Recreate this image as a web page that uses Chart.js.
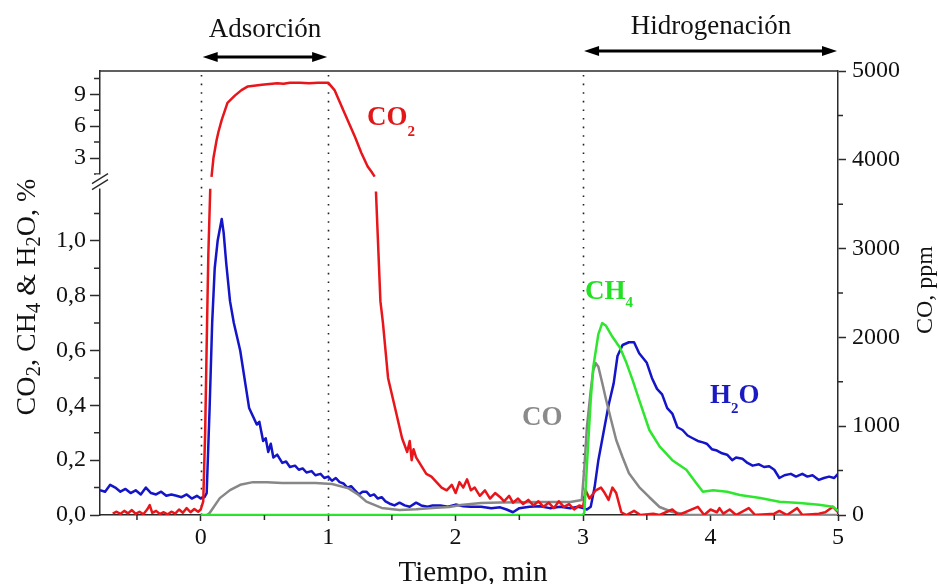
<!DOCTYPE html>
<html>
<head>
<meta charset="utf-8">
<script src="https://cdn.jsdelivr.net/npm/chart.js@4.4.0/dist/chart.umd.min.js"></script>
<style>
  html, body { margin: 0; padding: 0; background: #fff; }
  #wrap { width: 938px; height: 584px; }
</style>
</head>
<body>
<div id="wrap"><canvas id="chart" width="938" height="584"></canvas></div>
<script>
// time axis, min
var xTicks = [0, 1, 2, 3, 4, 5];
var xMinorTicks = [-0.5, 0.5, 1.5, 2.5, 3.5, 4.5];
var pctTicks = [0, 0.2, 0.4, 0.6, 0.8, 1.0, 3, 6, 9];
var pctMinorTicks = [0.1, 0.3, 0.5, 0.7, 0.9, 1.1, 1.5, 4.5, 7.5, 10.5];
var ppmTicks = [0, 1000, 2000, 3000, 4000, 5000];
var ppmMinorTicks = [500, 1500, 2500, 3500, 4500];
var phaseLines = [0, 1, 3];

// CO2, %
var co2Time = [-0.69, -0.66, -0.63, -0.6, -0.57, -0.54, -0.51, -0.48, -0.45, -0.42, -0.4, -0.38, -0.35, -0.32, -0.29, -0.26, -0.23, -0.2, -0.17, -0.14, -0.11, -0.08, -0.05, -0.02, 0.0,
  0.02, 0.035, 0.05, 0.06, 0.075, 0.085, 0.1, 0.125, 0.14, 0.165, 0.21, 0.27, 0.32, 0.37, 0.48, 0.6, 0.65, 0.7, 0.78, 0.85, 0.92, 1.0,
  1.05, 1.13, 1.21, 1.26, 1.31, 1.34, 1.365, 1.375, 1.41, 1.43, 1.47, 1.54, 1.58, 1.62, 1.64, 1.655, 1.67, 1.69, 1.73, 1.77, 1.81, 1.85, 1.89, 1.93, 1.97,
  2.0, 2.03, 2.06, 2.09, 2.12, 2.15, 2.19, 2.23, 2.27, 2.31, 2.35, 2.38, 2.42, 2.45, 2.49, 2.53, 2.57, 2.61, 2.65, 2.69, 2.73, 2.77, 2.81, 2.85, 2.89, 2.93, 2.97,
  3.0, 3.02, 3.05, 3.1, 3.14, 3.17, 3.2, 3.23, 3.26, 3.3, 3.34, 3.4, 3.45, 3.55, 3.6, 3.7, 3.75, 3.9, 3.95, 4.0, 4.05, 4.07, 4.1, 4.15, 4.2, 4.3, 4.35,
  4.5, 4.54, 4.6, 4.68, 4.72, 4.85, 4.9, 4.96, 5.0];
var co2Pct = [0.005, 0.012, 0.004, 0.015, 0.006, 0.018, 0.004, 0.012, 0.003, 0.02, 0.036, 0.008, 0.015, 0.004, 0.01, 0.002, 0.012, 0.005, 0.02, 0.008, 0.025, 0.01, 0.022, 0.012, 0.02,
  0.05, 0.3, 0.7, 0.95, 1.19, 1.22, 3.0, 4.7, 5.5, 6.6, 8.2, 8.9, 9.4, 9.75, 9.9, 10.05, 10.0, 10.1, 10.1, 10.05, 10.1, 10.1,
  9.4, 7.2, 5.0, 3.5, 2.2, 1.7, 1.25, 1.18, 0.78, 0.7, 0.5, 0.36, 0.28, 0.23, 0.27, 0.2, 0.24, 0.21, 0.18, 0.15, 0.14, 0.12, 0.1, 0.09, 0.11,
  0.08, 0.12, 0.1, 0.13, 0.09, 0.1, 0.07, 0.09, 0.06, 0.08, 0.065, 0.05, 0.07, 0.045, 0.06, 0.04, 0.055, 0.035, 0.05, 0.03, 0.045, 0.025, 0.05, 0.03, 0.04, 0.02, 0.035,
  0.03, 0.09, 0.06, 0.09, 0.1, 0.08, 0.055, 0.1, 0.08, 0.01, 0.0, 0.015, 0.0, 0.005, 0.0, 0.02, 0.0, 0.03, 0.0, 0.02, 0.01, 0.025, 0.005, 0.02, 0.0, 0.025, 0.0,
  0.005, 0.015, 0.0, 0.025, 0.0, 0.005, 0.01, 0.03, 0.01];

// H2O, %
var h2oTime = [-0.79, -0.75, -0.71, -0.67, -0.63, -0.59, -0.55, -0.51, -0.47, -0.43, -0.39, -0.35, -0.31, -0.27, -0.23, -0.19, -0.15, -0.11, -0.07, -0.03, 0.0,
  0.03, 0.047, 0.07, 0.09, 0.11, 0.133, 0.165, 0.18, 0.2, 0.23, 0.26, 0.28, 0.31, 0.33, 0.36, 0.38, 0.41, 0.44, 0.46, 0.49, 0.51, 0.53, 0.55, 0.57, 0.6,
  0.64, 0.67, 0.7, 0.74, 0.77, 0.8, 0.83, 0.87, 0.9, 0.94, 0.97, 1.0, 1.03, 1.06, 1.09, 1.12, 1.15, 1.18, 1.21, 1.24, 1.27, 1.3, 1.33, 1.36, 1.39, 1.42, 1.45, 1.49,
  1.52, 1.56, 1.6, 1.64, 1.69, 1.73, 1.78, 1.82, 1.88, 1.94, 2.0, 2.06, 2.12, 2.2, 2.28, 2.35, 2.4, 2.45, 2.5, 2.58, 2.66, 2.74, 2.82, 2.9, 2.96, 3.0,
  3.03, 3.06, 3.09, 3.12, 3.16, 3.2, 3.24, 3.27, 3.31, 3.36, 3.4, 3.44, 3.5, 3.54, 3.58, 3.62, 3.66, 3.7, 3.74, 3.78, 3.82, 3.86, 3.9, 3.94, 3.97,
  4.01, 4.05, 4.09, 4.13, 4.17, 4.2, 4.25, 4.29, 4.33, 4.38, 4.42, 4.46, 4.5, 4.54, 4.58, 4.63, 4.67, 4.72, 4.76, 4.8, 4.85, 4.89, 4.93, 4.97, 5.0];
var h2oPct = [0.09, 0.085, 0.11, 0.1, 0.085, 0.095, 0.08, 0.09, 0.075, 0.1, 0.08, 0.075, 0.085, 0.07, 0.075, 0.07, 0.065, 0.075, 0.06, 0.07, 0.06,
  0.065, 0.08, 0.39, 0.7, 0.9, 1.0, 1.08, 1.03, 0.92, 0.78, 0.7, 0.66, 0.6, 0.54, 0.45, 0.39, 0.36, 0.33, 0.34, 0.27, 0.28, 0.23, 0.26, 0.21, 0.22,
  0.19, 0.195, 0.175, 0.18, 0.165, 0.17, 0.155, 0.16, 0.145, 0.15, 0.135, 0.14, 0.125, 0.135, 0.12, 0.115, 0.1, 0.105, 0.09, 0.075, 0.085, 0.085, 0.07, 0.075, 0.06, 0.065, 0.05, 0.04,
  0.035, 0.045, 0.035, 0.03, 0.045, 0.035, 0.03, 0.035, 0.035, 0.03, 0.038, 0.032, 0.03, 0.03, 0.025, 0.028, 0.02, 0.01, 0.025, 0.03, 0.032, 0.025, 0.03, 0.025, 0.03, 0.025,
  0.02, 0.03, 0.1, 0.2, 0.3, 0.4, 0.48, 0.58, 0.62, 0.63, 0.63, 0.59, 0.555, 0.5, 0.46, 0.44, 0.39, 0.37, 0.32, 0.31, 0.29, 0.28, 0.27, 0.265, 0.26,
  0.24, 0.235, 0.225, 0.22, 0.2, 0.21, 0.205, 0.19, 0.18, 0.185, 0.175, 0.178, 0.165, 0.135, 0.145, 0.15, 0.14, 0.15, 0.14, 0.145, 0.128, 0.135, 0.14, 0.135, 0.15];

// CH4, %
var ch4Time = [0.0, 3.0, 3.01, 3.03, 3.06, 3.08, 3.12, 3.15, 3.18, 3.23, 3.29, 3.34, 3.39, 3.44, 3.52, 3.6, 3.7, 3.81, 3.89, 3.94, 4.02, 4.13, 4.23, 4.39, 4.54, 4.7, 4.85, 4.96, 5.0];
var ch4Pct = [0.0, 0.0, 0.01, 0.18, 0.42, 0.54, 0.66, 0.7, 0.69, 0.65, 0.61, 0.555, 0.49, 0.42, 0.31, 0.25, 0.2, 0.165, 0.115, 0.085, 0.09, 0.085, 0.073, 0.062, 0.048, 0.044, 0.037, 0.03, 0.015];

// CO, ppm
var coTime = [0.05, 0.07, 0.15, 0.23, 0.31, 0.41, 0.52, 0.64, 0.77, 0.9, 1.03, 1.16, 1.24, 1.3, 1.42, 1.56, 1.69, 1.82, 1.95, 2.04, 2.2, 2.35, 2.66, 2.9, 2.99,
  3.01, 3.03, 3.06, 3.08, 3.1, 3.12, 3.15, 3.18, 3.22, 3.26, 3.31, 3.36, 3.44, 3.52, 3.6, 3.7, 3.83, 5.0];
var coPpm = [0, 22, 190, 280, 340, 370, 370, 360, 360, 360, 350, 300, 225, 150, 80, 56, 65, 80, 90, 113, 135, 140, 146, 146, 170,
  540, 990, 1400, 1630, 1710, 1670, 1490, 1300, 1070, 845, 650, 470, 315, 200, 90, 34, 0, 0];

var PCT_BREAK = 1.2;
var PCT_MAX = 11.2;
var LOW_FRAC = 0.741;   // share of the axis height used by 0..1.2
var HIGH_FRAC = 0.761;  // where the upper part (1.2..11.2) starts

var SERIF = "'Liberation Serif', 'Times New Roman', serif";
var AXIS = '#2b2b2b';

// linear scale with a break between 1.2 and the upper range
class BrokenScale extends Chart.LinearScale {
    getPixelForValue(v) {
        if (v === null || v === undefined || isNaN(v)) return NaN;
        var d = v <= PCT_BREAK
            ? v / PCT_BREAK * LOW_FRAC
            : HIGH_FRAC + (v - PCT_BREAK) / (PCT_MAX - PCT_BREAK) * (1 - HIGH_FRAC);
        return this.getPixelForDecimal(d);
    }
    getValueForPixel(p) {
        var d = this.getDecimalForPixel(p);
        return d <= LOW_FRAC
            ? d / LOW_FRAC * PCT_BREAK
            : PCT_BREAK + (d - HIGH_FRAC) / (1 - HIGH_FRAC) * (PCT_MAX - PCT_BREAK);
    }
}
BrokenScale.id = 'broken';
BrokenScale.defaults = Chart.LinearScale.defaults;
Chart.register(BrokenScale);

function points(xs, ys) {
    return xs.map(function(x, i) { return { x: x, y: ys[i] }; });
}

function drawParts(ctx, parts, x, y, align) {
    var total = 0;
    parts.forEach(function(p) {
        ctx.font = p.font;
        p.w = ctx.measureText(p.t).width;
        total += p.w;
    });
    var cx = align === 'center' ? x - total / 2 : x;
    ctx.textAlign = 'left';
    ctx.textBaseline = 'alphabetic';
    parts.forEach(function(p) {
        ctx.font = p.font;
        ctx.fillText(p.t, cx, y + (p.dy || 0));
        cx += p.w;
    });
}

function drawArrow(ctx, x1, x2, y) {
    var head = 15, half = 5;
    ctx.save();
    ctx.strokeStyle = '#000';
    ctx.fillStyle = '#000';
    ctx.lineWidth = 3;
    ctx.beginPath();
    ctx.moveTo(x1 + head - 2, y);
    ctx.lineTo(x2 - head + 2, y);
    ctx.stroke();
    ctx.beginPath();
    ctx.moveTo(x1, y);
    ctx.lineTo(x1 + head, y - half);
    ctx.lineTo(x1 + head, y + half);
    ctx.closePath();
    ctx.fill();
    ctx.beginPath();
    ctx.moveTo(x2, y);
    ctx.lineTo(x2 - head, y - half);
    ctx.lineTo(x2 - head, y + half);
    ctx.closePath();
    ctx.fill();
    ctx.restore();
}

var decorPlugin = {
    id: 'decor',
    beforeDatasetsDraw: function(chart) {
        var ctx = chart.ctx, a = chart.chartArea, x = chart.scales.x;
        ctx.save();
        ctx.strokeStyle = '#222';
        ctx.lineWidth = 1.6;
        ctx.setLineDash([1.6, 7]);
        phaseLines.forEach(function(t) {
            var px = Math.round(x.getPixelForValue(t)) + 0.5;
            ctx.beginPath();
            ctx.moveTo(px, a.top + 4);
            ctx.lineTo(px, a.bottom);
            ctx.stroke();
        });
        ctx.restore();
    },
    afterDraw: function(chart) {
        var ctx = chart.ctx, a = chart.chartArea;
        var x = chart.scales.x, y = chart.scales.y, y1 = chart.scales.y1;
        ctx.save();

        // top frame
        ctx.strokeStyle = AXIS;
        ctx.lineWidth = 1.5;
        ctx.beginPath();
        ctx.moveTo(a.left, a.top);
        ctx.lineTo(a.right, a.top);
        ctx.stroke();

        // minor ticks
        ctx.beginPath();
        xMinorTicks.forEach(function(t) {
            var px = x.getPixelForValue(t);
            ctx.moveTo(px, a.bottom);
            ctx.lineTo(px, a.bottom + 5);
        });
        pctMinorTicks.forEach(function(v) {
            var py = y.getPixelForValue(v);
            ctx.moveTo(a.left, py);
            ctx.lineTo(a.left - 6, py);
        });
        ppmMinorTicks.forEach(function(v) {
            var py = y1.getPixelForValue(v);
            ctx.moveTo(a.right, py);
            ctx.lineTo(a.right + 5, py);
        });
        ctx.stroke();

        // axis break
        var yb = (y.getPixelForValue(PCT_BREAK) + y.getPixelForValue(PCT_BREAK + 0.001)) / 2;
        ctx.fillStyle = '#fff';
        ctx.fillRect(a.left - 4, yb - 7, 8, 14);
        ctx.strokeStyle = AXIS;
        ctx.lineWidth = 1.4;
        ctx.beginPath();
        ctx.moveTo(a.left - 8, yb + 2);
        ctx.lineTo(a.left + 8, yb - 8);
        ctx.moveTo(a.left - 8, yb + 8);
        ctx.lineTo(a.left + 8, yb - 2);
        ctx.stroke();

        // axis titles
        ctx.fillStyle = '#111';
        ctx.save();
        ctx.translate(35, 297);
        ctx.rotate(-Math.PI / 2);
        var big = '28px ' + SERIF, sub = '21px ' + SERIF;
        drawParts(ctx, [
            { t: 'CO', font: big }, { t: '2', font: sub, dy: 5 },
            { t: ', CH', font: big }, { t: '4', font: sub, dy: 5 },
            { t: ' & H', font: big }, { t: '2', font: sub, dy: 5 },
            { t: 'O, %', font: big }
        ], 0, 0, 'center');
        ctx.restore();

        ctx.save();
        ctx.translate(932, 290);
        ctx.rotate(-Math.PI / 2);
        drawParts(ctx, [{ t: 'CO, ppm', font: '24px ' + SERIF }], 0, 0, 'center');
        ctx.restore();

        drawParts(ctx, [{ t: 'Tiempo, min', font: '29px ' + SERIF }], 473, 581, 'center');

        // phases
        drawParts(ctx, [{ t: 'Adsorción', font: '27px ' + SERIF }], 265, 37, 'center');
        drawParts(ctx, [{ t: 'Hidrogenación', font: '27px ' + SERIF }], 711, 34, 'center');
        drawArrow(ctx, x.getPixelForValue(0) + 2, x.getPixelForValue(1) - 1, 57);
        drawArrow(ctx, x.getPixelForValue(3) + 1, x.getPixelForValue(5) - 1, 51);

        // series labels
        var lb = 'bold 27px ' + SERIF, ls = 'bold 15px ' + SERIF;
        ctx.fillStyle = '#e21818';
        drawParts(ctx, [{ t: 'CO', font: lb }, { t: '2', font: ls, dy: 11 }], 367, 125, 'left');
        ctx.fillStyle = '#22e022';
        drawParts(ctx, [{ t: 'CH', font: lb }, { t: '4', font: ls, dy: 8 }], 585, 299, 'left');
        ctx.fillStyle = '#8a8a8a';
        drawParts(ctx, [{ t: 'CO', font: lb }], 522, 425, 'left');
        ctx.fillStyle = '#1a1ac4';
        drawParts(ctx, [{ t: 'H', font: lb }, { t: '2', font: ls, dy: 10 }, { t: 'O', font: lb }], 710, 403, 'left');

        ctx.restore();
    }
};

function hideBreak(ctx) {
    var a = ctx.p0.parsed.y > PCT_BREAK, b = ctx.p1.parsed.y > PCT_BREAK;
    return a !== b ? 'rgba(0,0,0,0)' : undefined;
}

var tickFont = { family: SERIF, size: 24 };

new Chart(document.getElementById('chart'), {
    type: 'line',
    data: {
        datasets: [{
            label: 'CH4',
            data: points(ch4Time, ch4Pct),
            yAxisID: 'y',
            borderColor: '#2fe62f',
            borderWidth: 2.5,
            order: 1
        }, {
            label: 'CO2',
            data: points(co2Time, co2Pct),
            yAxisID: 'y',
            borderColor: '#e8161b',
            borderWidth: 2.5,
            segment: { borderColor: hideBreak },
            order: 2
        }, {
            label: 'CO',
            data: points(coTime, coPpm),
            yAxisID: 'y1',
            borderColor: '#878787',
            borderWidth: 2.5,
            order: 3
        }, {
            label: 'H2O',
            data: points(h2oTime, h2oPct),
            yAxisID: 'y',
            borderColor: '#1414c8',
            borderWidth: 2.5,
            order: 4
        }]
    },
    options: {
        responsive: false,
        animation: false,
        devicePixelRatio: 1,
        layout: { padding: { top: 71, left: 0, right: 0, bottom: 0 } },
        elements: {
            point: { radius: 0, hoverRadius: 0 },
            line: { tension: 0, borderJoinStyle: 'round' }
        },
        plugins: {
            legend: { display: false },
            tooltip: { enabled: false }
        },
        scales: {
            x: {
                type: 'linear',
                min: -0.79,
                max: 5,
                afterBuildTicks: function(s) { s.ticks = xTicks.map(function(v) { return { value: v }; }); },
                afterFit: function(s) { s.height = 69; },
                ticks: { font: tickFont, color: '#111', padding: 2, autoSkip: false, maxRotation: 0,
                    callback: function(v) { return String(v); } },
                grid: { drawOnChartArea: false, drawTicks: true, tickLength: 6, tickColor: AXIS, tickWidth: 1.5 },
                border: { display: true, color: AXIS, width: 1.5 }
            },
            y: {
                type: 'broken',
                position: 'left',
                min: 0,
                max: PCT_MAX,
                afterBuildTicks: function(s) { s.ticks = pctTicks.map(function(v) { return { value: v }; }); },
                afterFit: function(s) { s.width = 100; },
                ticks: {
                    font: tickFont, color: '#111', padding: 4, autoSkip: false,
                    callback: function(v) { return v <= PCT_BREAK ? v.toFixed(1).replace('.', ',') : String(v); }
                },
                grid: { drawOnChartArea: false, drawTicks: true, tickLength: 10, tickColor: AXIS, tickWidth: 1.5 },
                border: { display: true, color: AXIS, width: 1.5 }
            },
            y1: {
                type: 'linear',
                position: 'right',
                min: 0,
                max: 5000,
                afterBuildTicks: function(s) { s.ticks = ppmTicks.map(function(v) { return { value: v }; }); },
                afterFit: function(s) { s.width = 100; },
                ticks: { font: tickFont, color: '#111', padding: 6, autoSkip: false,
                    callback: function(v) { return String(v); } },
                grid: { drawOnChartArea: false, drawTicks: true, tickLength: 8, tickColor: AXIS, tickWidth: 1.5 },
                border: { display: true, color: AXIS, width: 1.5 }
            }
        }
    },
    plugins: [decorPlugin]
});
</script>
</body>
</html>
